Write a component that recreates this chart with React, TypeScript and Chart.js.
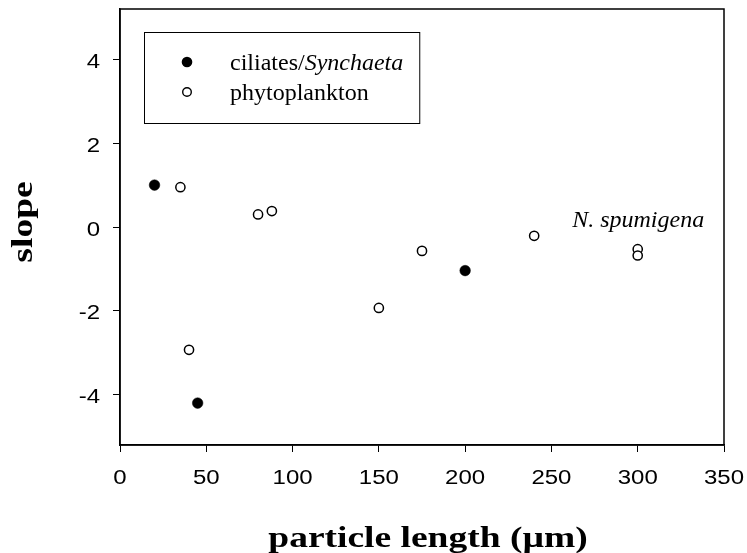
import React, { useEffect, useRef } from 'react';
import { Chart, registerables } from 'chart.js';

Chart.register(...registerables);

// ---- data ----
const xTickValues = [0, 50, 100, 150, 200, 250, 300, 350];
const yTickValues = [-4, -2, 0, 2, 4];

const ciliatesX = [20, 45, 200];
const ciliatesY = [1.0, -4.2, -1.04];

const phytoX = [35, 40, 80, 88, 150, 175, 240, 300, 300];
const phytoY = [0.95, -2.93, 0.3, 0.38, -1.93, -0.57, -0.21, -0.53, -0.68];

const legendCiliatesPlain = 'ciliates/';
const legendCiliatesItalic = 'Synchaeta';
const legendPhyto = 'phytoplankton';

const annotationText = 'N. spumigena';
const annotationX = 262;
const annotationY = 0;

const xTitle = 'particle length (µm)';
const yTitle = 'slope';

const X_MIN = 0;
const X_MAX = 350;
const Y_MIN = -5.2;
const Y_MAX = 5.2;

const SERIF = '"Liberation Serif", "Times New Roman", serif';
const SANS = '"Liberation Sans", Arial, sans-serif';

const drawPlugin = {
  id: 'customDraw',
  afterDraw(chart: any) {
    const ctx: CanvasRenderingContext2D = chart.ctx;
    const { left, right, top, bottom } = chart.chartArea;
    const xs = chart.scales.x;
    const ys = chart.scales.y;
    ctx.save();

    // frame
    ctx.strokeStyle = '#000';
    ctx.lineWidth = 1.5;
    ctx.strokeRect(left, top, right - left, bottom - top);

    // tick labels (horizontally stretched Arial)
    ctx.fillStyle = '#000';
    ctx.font = `20px ${SANS}`;
    ctx.textBaseline = 'alphabetic';
    xTickValues.forEach((v) => {
      const px = xs.getPixelForValue(v);
      ctx.save();
      ctx.translate(px, 484);
      ctx.scale(1.2, 1);
      ctx.textAlign = 'center';
      ctx.fillText(String(v), 0, 0);
      ctx.restore();
    });
    yTickValues.forEach((v) => {
      const py = ys.getPixelForValue(v);
      ctx.save();
      ctx.translate(100, py + 8.5);
      ctx.scale(1.2, 1);
      ctx.textAlign = 'right';
      ctx.fillText(String(v), 0, 0);
      ctx.restore();
    });

    // axis titles
    ctx.font = `bold 30px ${SERIF}`;
    ctx.save();
    ctx.translate(428, 547);
    ctx.scale(1.25, 1);
    ctx.textAlign = 'center';
    ctx.fillText(xTitle, 0, 0);
    ctx.restore();

    ctx.save();
    ctx.translate(32, 222);
    ctx.rotate(-Math.PI / 2);
    ctx.scale(1.25, 1);
    ctx.textAlign = 'center';
    ctx.fillText(yTitle, 0, 0);
    ctx.restore();

    // annotation
    ctx.font = `italic 24px ${SERIF}`;
    ctx.textAlign = 'left';
    ctx.fillText(annotationText, xs.getPixelForValue(annotationX), ys.getPixelForValue(annotationY));

    // legend
    ctx.font = `24px ${SERIF}`;
    const wPlain = ctx.measureText(legendCiliatesPlain).width;
    ctx.font = `italic 24px ${SERIF}`;
    const wItal = ctx.measureText(legendCiliatesItalic).width;
    const textX = 230;
    const boxLeft = 144;
    const boxTop = 32;
    const boxRight = textX + wPlain + wItal + 16;
    const boxBottom = 123;
    ctx.lineWidth = 1;
    ctx.strokeRect(boxLeft + 0.5, boxTop + 0.5, boxRight - boxLeft, boxBottom - boxTop);

    ctx.beginPath();
    ctx.arc(187, 62, 5.3, 0, Math.PI * 2);
    ctx.fill();
    ctx.beginPath();
    ctx.arc(187, 92, 4.3, 0, Math.PI * 2);
    ctx.lineWidth = 1.4;
    ctx.stroke();

    ctx.font = `24px ${SERIF}`;
    ctx.fillText(legendCiliatesPlain, textX, 70);
    ctx.font = `italic 24px ${SERIF}`;
    ctx.fillText(legendCiliatesItalic, textX + wPlain, 70);
    ctx.font = `24px ${SERIF}`;
    ctx.fillText(legendPhyto, textX, 100);

    ctx.restore();
  },
};

export default function App() {
  const ref = useRef<HTMLCanvasElement>(null);

  useEffect(() => {
    const canvas = ref.current!;
    const chart = new Chart(canvas, {
      type: 'scatter',
      data: {
        datasets: [
          {
            label: 'ciliates/Synchaeta',
            data: ciliatesX.map((x, i) => ({ x, y: ciliatesY[i] })),
            pointRadius: 5.3,
            pointBackgroundColor: '#000',
            pointBorderColor: '#000',
            pointBorderWidth: 0.5,
          },
          {
            label: 'phytoplankton',
            data: phytoX.map((x, i) => ({ x, y: phytoY[i] })),
            pointRadius: 4.6,
            pointBackgroundColor: '#fff',
            pointBorderColor: '#000',
            pointBorderWidth: 1.5,
          },
        ],
      },
      options: {
        animation: false,
        responsive: false,
        devicePixelRatio: 1,
        layout: { padding: { left: 0, right: 23, top: 9, bottom: 0 } },
        plugins: { legend: { display: false }, tooltip: { enabled: false } },
        scales: {
          x: {
            type: 'linear',
            min: X_MIN,
            max: X_MAX,
            afterBuildTicks: (s: any) => {
              s.ticks = xTickValues.map((value) => ({ value }));
            },
            afterFit: (s: any) => {
              s.height = 108;
            },
            ticks: { display: false },
            grid: { drawOnChartArea: false, drawTicks: true, tickLength: 7, color: '#000', lineWidth: 1 },
            border: { display: true, color: '#000', width: 1.5 },
          },
          y: {
            type: 'linear',
            min: Y_MIN,
            max: Y_MAX,
            afterBuildTicks: (s: any) => {
              s.ticks = yTickValues.map((value) => ({ value }));
            },
            afterFit: (s: any) => {
              s.width = 120;
            },
            ticks: { display: false },
            grid: { drawOnChartArea: false, drawTicks: true, tickLength: 7, color: '#000', lineWidth: 1 },
            border: { display: true, color: '#000', width: 1.5 },
          },
        },
      },
      plugins: [drawPlugin],
    });
    return () => chart.destroy();
  }, []);

  return (
    <div style={{ position: 'fixed', left: 0, top: 0, width: 747, height: 553, background: '#fff' }}>
      <canvas ref={ref} width={747} height={553} style={{ width: 747, height: 553, display: 'block' }} />
    </div>
  );
}
